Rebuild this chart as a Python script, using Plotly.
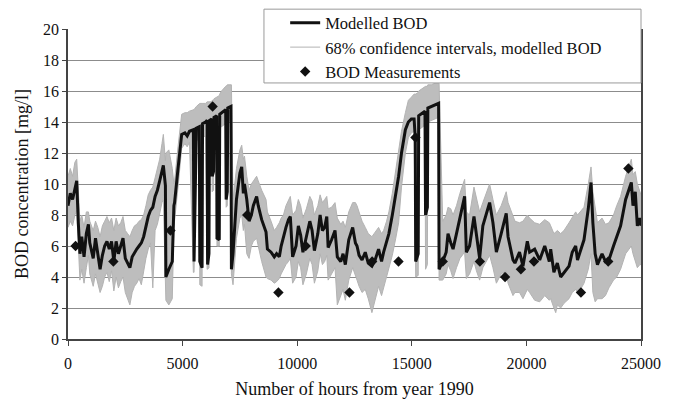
import plotly.graph_objects as go

# ---- data ----
hours = [
    0, 100, 200, 300, 380, 450, 520, 600, 700, 800, 890, 950, 1000, 1100, 1200, 1300, 1400, 1500, 1600, 1700,
    1800, 1900, 2000, 2100, 2200, 2300, 2400, 2500, 2600, 2700, 2800, 2900, 3000, 3100, 3200, 3300, 3400, 3500,
    3600, 3700, 3800, 3900, 4000, 4100, 4160, 4250, 4270, 4400, 4550, 4620,
    4650, 4800, 4960, 5100, 5200, 5300, 5470, 5500, 5600, 5730, 5750, 5850, 5870, 6000, 6070, 6090, 6150, 6170,
    6270, 6290, 6350, 6370, 6485, 6500, 6600, 6620, 6700, 6880, 6900, 6950, 6970, 7110, 7130,
    7200, 7350, 7500, 7580, 7650, 7700, 7800, 7900, 8000, 8085, 8230, 8300, 8450, 8640, 8700, 8860, 9000, 9100,
    9220, 9300, 9400, 9510, 9620, 9700,
    9800, 9950, 10050, 10150, 10250, 10400, 10550, 10650, 10750, 10900, 11000, 11100, 11200, 11290, 11350, 11500,
    11650, 11750, 11900, 12000, 12100, 12250, 12420,
    12540, 12610, 12700, 12830, 12970, 13100, 13260, 13400, 13550, 13680, 13770, 13900, 14000, 14150, 14300, 14425,
    14550, 14720, 14850, 14980, 15100, 15150, 15170, 15280, 15300, 15400, 15575, 15600, 15680, 15700, 15850, 16010,
    16170, 16190, 16350,
    16500, 16580, 16700, 16800, 16950, 17100, 17305, 17380, 17520, 17713, 17820, 17960, 18100, 18250, 18395, 18540,
    18690, 18900, 19120, 19200, 19415, 19500, 19700, 19850, 20040, 20140, 20360, 20580, 20800,
    21000, 21060, 21200, 21280, 21350, 21495, 21640, 21860, 22000, 22150, 22230, 22400, 22513, 22700, 22820, 22900,
    23000, 23100, 23300, 23450, 23600, 23800, 23940, 24110, 24330, 24578, 24650, 24750, 24840, 24950, 25000,
]

bod_model = [
    8.6, 9.4, 9.0, 9.8, 10.2, 7.5, 5.5, 6.6, 5.3, 6.8, 7.4, 6.2, 5.8, 5.2, 6.5, 5.6, 4.5, 5.4, 6.0, 6.3,
    5.8, 6.3, 5.0, 6.3, 5.5, 6.0, 6.5, 5.2, 4.9, 4.6, 5.3, 5.6, 5.8, 6.0, 6.2, 6.6, 7.3, 7.9,
    8.3, 8.5, 9.2, 9.6, 10.2, 10.9, 11.2, 9.9, 4.0, 4.5, 5.0, 8.6,
    8.8, 11.0, 13.2, 13.3, 13.1, 13.4, 13.5, 5.0, 13.6, 13.7, 5.0, 4.6, 13.9, 14.0, 14.1, 4.8, 5.5, 14.1,
    14.2, 10.5, 10.8, 14.3, 14.4, 6.5, 6.4, 14.5, 14.6, 14.8, 9.0, 9.5, 14.9, 15.0, 4.5,
    5.5, 9.0, 10.7, 11.1, 9.4, 10.0, 9.0, 7.6, 8.0, 8.6, 9.2, 8.6, 7.7, 6.9, 5.8, 5.6, 5.3, 5.5,
    5.3, 6.0, 6.6, 7.2, 7.7, 7.9,
    5.3, 6.0, 7.3, 6.7, 5.6, 6.5, 7.6, 7.0, 5.7, 6.8, 8.0, 7.0, 7.2, 7.9, 5.9, 6.4,
    7.0, 5.3, 5.0, 5.5, 4.8, 6.4, 7.2,
    6.2, 6.0, 5.4, 5.1, 5.6, 4.9, 4.7, 5.1, 5.8, 5.0, 5.6, 6.2, 6.8, 8.0, 9.4, 10.5,
    12.0, 13.5, 14.0, 14.2, 14.2, 13.0, 5.0, 5.5, 14.4, 14.5, 14.7, 8.0, 8.5, 14.9, 15.0, 15.1,
    15.2, 4.5, 5.0,
    5.6, 6.8, 6.2, 5.8, 6.8, 7.8, 9.2, 5.6, 6.0, 7.9, 6.8, 5.2, 7.3, 8.0, 8.8, 7.5,
    5.6, 6.8, 8.1, 6.6, 5.1, 4.9, 5.6, 4.7, 6.3, 5.6, 5.8, 5.1, 6.0,
    5.0, 5.8, 4.3, 4.6, 4.9, 4.0, 4.3, 4.7, 5.6, 6.0, 5.1, 5.8, 6.4, 8.4, 10.1, 7.5,
    5.5, 4.8, 5.5, 5.0, 5.1, 6.0, 6.6, 7.3, 9.0, 10.1, 8.6, 9.5, 7.3, 7.8, 7.3,
]

ci_upper = [
    10.5, 11.0, 10.5, 11.4, 11.6, 9.5, 7.6, 8.0, 7.2, 8.2, 8.2, 7.6, 7.4, 7.0, 7.6, 7.2, 6.6, 7.3, 7.6, 7.9,
    7.5, 7.8, 7.0, 7.8, 7.3, 7.5, 7.9, 7.0, 6.8, 6.6, 7.0, 7.3, 7.4, 7.6, 7.7, 8.0, 8.6, 9.3,
    9.6, 9.8, 10.4, 11.0, 11.6, 12.6, 13.2, 11.5, 12.0, 12.2, 11.0, 10.0,
    10.2, 12.4, 14.5, 14.6, 14.6, 14.7, 14.8, 14.8, 15.0, 15.2, 15.2, 15.2, 15.2, 15.2, 15.3, 15.3, 15.3, 15.3,
    15.3, 15.4, 15.4, 15.5, 15.6, 15.6, 15.7, 15.8, 16.0, 16.3, 16.3, 16.4, 16.4, 16.4, 16.4,
    9.0, 11.0, 12.2, 12.5, 11.6, 11.8, 10.5, 9.6, 10.0, 10.2, 10.5, 10.2, 9.6, 9.0, 8.2, 7.6, 7.0, 7.2,
    7.5, 7.8, 8.0, 8.6, 9.0, 9.2,
    8.0, 8.3, 9.0, 8.6, 7.8, 8.4, 9.2, 8.9, 8.0, 8.6, 9.3, 8.8, 9.0, 9.2, 8.4, 8.5,
    8.8, 7.8, 7.4, 7.6, 7.2, 8.2, 8.8,
    8.8, 8.6, 8.2, 7.6, 7.2, 6.8, 6.6, 6.9, 7.2, 6.8, 7.0, 7.6, 8.2, 9.4, 10.8, 12.0,
    13.4, 14.6, 15.4, 15.6, 15.8, 15.8, 15.8, 15.9, 16.0, 16.1, 16.3, 16.3, 16.3, 16.4, 16.4, 16.5,
    16.5, 16.5, 7.6,
    8.0, 8.5, 8.4, 8.0, 8.6, 9.4, 10.3, 8.2, 8.0, 9.8, 9.0, 8.2, 8.8, 9.4, 10.0, 9.0,
    8.0, 8.6, 9.5, 8.8, 8.0, 7.6, 7.5, 7.6, 8.0, 7.8, 7.5, 7.4, 7.7,
    7.5, 7.3, 6.8, 6.9, 7.0, 6.8, 7.0, 7.5, 7.8, 8.2, 8.0, 8.3, 8.5, 10.0, 11.1, 9.5,
    8.6, 7.5, 7.8, 7.4, 7.5, 8.0, 8.6, 9.2, 10.5, 11.6, 10.6, 10.8, 10.0, 9.6, 9.3,
]

ci_lower = [
    7.2, 7.6, 7.3, 8.0, 8.3, 5.5, 3.8, 4.5, 3.6, 4.6, 5.4, 4.2, 3.9, 3.4, 4.2, 3.6, 3.0, 3.4, 4.0, 4.3,
    3.7, 4.4, 3.1, 4.0, 3.3, 3.7, 4.0, 3.0, 2.6, 2.2, 3.0, 3.4, 3.6, 3.9, 3.5, 4.5, 5.2, 5.8,
    6.2, 3.3, 7.0, 7.4, 8.2, 8.8, 9.0, 2.5, 2.5, 2.2, 2.6, 7.2,
    7.6, 9.8, 12.3, 12.6, 12.4, 12.7, 4.3, 4.3, 12.8, 12.9, 3.5, 3.4, 13.0, 13.1, 4.5, 4.5, 4.6, 13.2,
    13.3, 9.5, 9.6, 13.4, 13.5, 6.0, 6.0, 13.6, 13.7, 13.9, 8.5, 8.6, 14.0, 14.1, 4.2,
    3.5, 6.5, 7.8, 8.0, 7.0, 7.4, 5.5, 5.2, 6.0, 6.3, 6.5, 6.0, 5.0, 4.0, 3.9, 3.8, 3.6, 3.7,
    3.9, 4.2, 4.5, 4.8, 5.0, 5.2,
    3.6, 4.0, 5.0, 4.6, 3.5, 4.2, 5.2, 4.8, 3.6, 4.4, 5.5, 4.8, 5.0, 5.4, 3.8, 4.2,
    4.6, 2.2, 2.8, 3.2, 2.5, 3.8, 4.6,
    4.0, 3.8, 3.4, 3.0, 3.2, 2.6, 1.7, 2.5, 3.4, 2.8, 3.3, 4.0, 4.6, 5.4, 6.5, 7.5,
    9.8, 12.0, 13.0, 13.3, 13.4, 4.5, 4.0, 4.1, 13.5, 13.6, 13.8, 4.5, 4.8, 14.0, 14.1, 14.2,
    14.3, 3.8, 3.8,
    4.2, 4.8, 4.4, 3.9, 4.6, 5.2, 5.6, 3.9, 4.2, 5.0, 4.4, 3.8, 4.6, 5.0, 5.4, 4.6,
    3.6, 4.2, 4.4, 3.6, 2.8, 3.0, 3.0, 2.6, 3.2, 3.0, 2.5, 2.4, 2.8,
    2.5, 2.6, 2.0, 1.7, 2.2, 2.0, 2.3, 2.6, 3.0, 3.2, 3.0, 3.3, 3.6, 4.5, 5.5, 3.0,
    2.4, 2.6, 2.6, 2.8, 3.3, 3.8, 4.0, 4.5, 5.5, 6.0, 5.5, 5.0, 4.6, 4.8, 4.8,
]

meas_hours = [330, 1980, 4470, 6310, 7820, 9180, 10370, 12280, 13270, 14420, 15160, 16350, 17970,
              19070, 19760, 20330, 22380, 23570, 24450]
meas_bod = [6.0, 5.0, 7.0, 15.0, 8.0, 3.0, 6.0, 3.0, 5.0, 5.0, 13.0, 5.0, 5.0,
            4.0, 4.5, 5.0, 3.0, 5.0, 11.0]

x_ticks = [0, 5000, 10000, 15000, 20000, 25000]
y_ticks = [0, 2, 4, 6, 8, 10, 12, 14, 16, 18, 20]

assert len(hours) == len(bod_model) == len(ci_upper) == len(ci_lower)

FONT = "Liberation Serif, Times New Roman, serif"
GRAY = "#b3b3b3"

fig = go.Figure()

# confidence band (lower line, then upper filled to it)
fig.add_trace(go.Scatter(x=hours, y=ci_lower, mode="lines",
                         line=dict(color=GRAY, width=1), showlegend=False, hoverinfo="skip"))
fig.add_trace(go.Scatter(x=hours, y=ci_upper, mode="lines", fill="tonexty",
                         fillcolor="#bdbdbd",
                         line=dict(color=GRAY, width=1), showlegend=False, hoverinfo="skip"))

fig.add_trace(go.Scatter(x=hours, y=bod_model, mode="lines", name="Modelled BOD",
                         legendgroup="a", line=dict(color="#111111", width=3)))
fig.add_trace(go.Scatter(x=[None], y=[None], mode="lines",
                         name="68% confidence intervals, modelled BOD",
                         legendgroup="b", line=dict(color=GRAY, width=1)))
fig.add_trace(go.Scatter(x=meas_hours, y=meas_bod, mode="markers", name="BOD Measurements",
                         legendgroup="c", marker=dict(symbol="diamond", size=8, color="#111111")))

# legend frame
fig.add_shape(type="rect", xref="paper", yref="paper",
              x0=0.342, x1=1.0, y0=0.826, y1=1.064,
              line=dict(color="#9a9a9a", width=1), fillcolor="white", layer="above")

# page body has an 8px default margin, so the figure is drawn 8px smaller and shifted
fig.update_layout(
    width=670, height=395,
    margin=dict(l=60, r=37, t=21, b=64, autoexpand=False),
    paper_bgcolor="white", plot_bgcolor="white",
    font=dict(family=FONT, size=16, color="#111111"),
    showlegend=True,
    legend=dict(x=0.379, y=1.076, xanchor="left", yanchor="top", traceorder="normal",
                bgcolor="rgba(0,0,0,0)", borderwidth=0,
                font=dict(family=FONT, size=16.5, color="#111111"),
                tracegroupgap=1),
    xaxis=dict(range=[0, 25000], tickvals=x_ticks, ticktext=[str(v) for v in x_ticks],
               showgrid=False, zeroline=False, automargin=False,
               showline=True, linecolor="#444444", linewidth=1.5,
               ticks="outside", ticklen=5, tickcolor="#444444", ticklabelstandoff=4,
               tickfont=dict(family=FONT, size=16),
               title=dict(text="Number of hours from year 1990",
                          font=dict(family=FONT, size=18), standoff=11)),
    yaxis=dict(range=[0, 20], tickvals=y_ticks, ticktext=[str(v) for v in y_ticks],
               showgrid=True, gridcolor="#8c8c8c", gridwidth=1.3, zeroline=False, automargin=False,
               showline=True, linecolor="#444444", linewidth=1.5, mirror=True,
               ticks="outside", ticklen=4, tickcolor="#444444",
               tickfont=dict(family=FONT, size=16),
               title=dict(text="BOD concentration [mg/l]",
                          font=dict(family=FONT, size=18), standoff=10)),
)

fig.write_html("out.html")
